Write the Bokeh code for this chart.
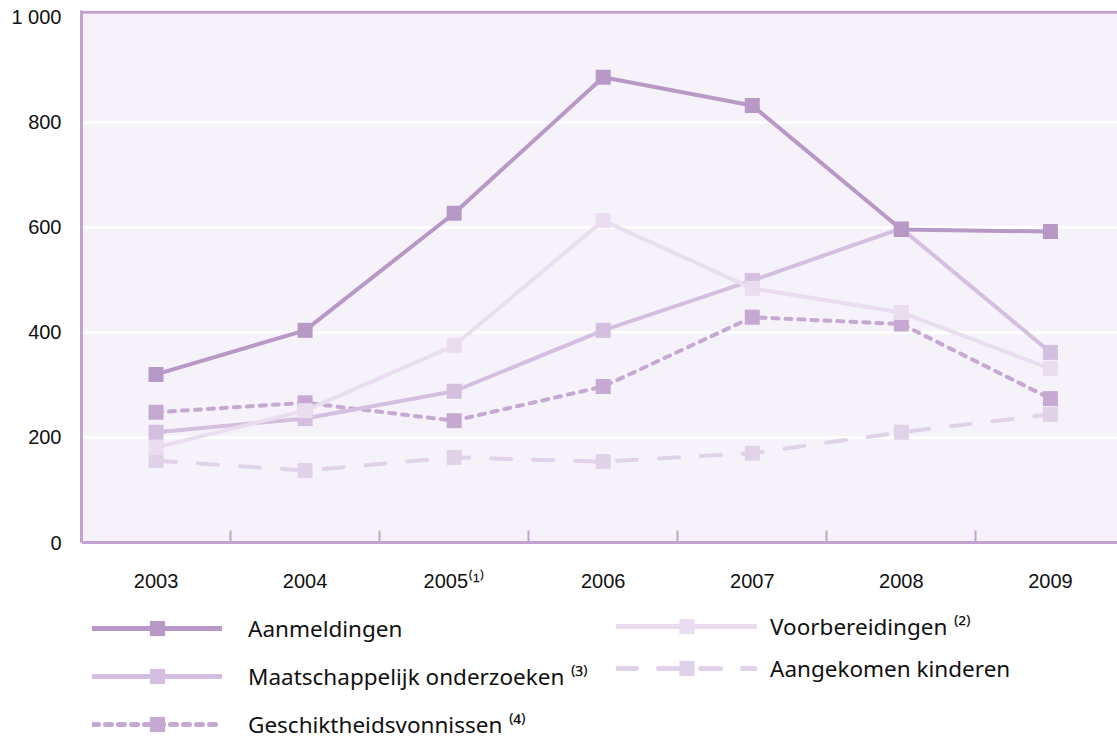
from bokeh.plotting import figure
from bokeh.layouts import column
from bokeh.models import Range1d, FixedTicker, Span, Legend, LegendItem
from bokeh.embed import file_html
from bokeh.resources import INLINE

# ---- data ----
years = ["2003", "2004", "2005⁽¹⁾", "2006", "2007", "2008", "2009"]
aanmeldingen = [320, 404, 627, 886, 832, 596, 592]
voorbereidingen = [181, 251, 375, 613, 484, 438, 331]
maatschappelijk = [210, 236, 288, 404, 499, 598, 362]
geschikt = [248, 266, 232, 297, 429, 416, 274]
aangekomen = [156, 137, 162, 154, 170, 210, 244]
y_ticks = [0, 200, 400, 600, 800, 1000]
y_labels = ["0", "200", "400", "600", "800", "1 000"]

labels = {
    "aanmeldingen": "Aanmeldingen",
    "maatschappelijk": "Maatschappelijk onderzoeken ⁽³⁾",
    "geschikt": "Geschiktheidsvonnissen ⁽⁴⁾",
    "voorbereidingen": "Voorbereidingen ⁽²⁾",
    "aangekomen": "Aangekomen kinderen",
}

# ---- styles ----
axis_col = "#c4a2d0"
bg_col = "#f5f2f9"
col_aan = "#b898c7"
col_maat = "#d4bfe0"
col_voor = "#e9ddef"
col_ges = "#c5a9d3"
col_ang = "#e0d2e9"
font_tick = "Liberation Sans"
font_leg = "Noto Sans"

xs = list(range(len(years)))

p = figure(
    x_range=Range1d(-0.5, 6.45), y_range=Range1d(0, 1013),
    width=1117, height=600,
    min_border_left=81, min_border_right=0, min_border_top=10, min_border_bottom=58,
    output_backend="svg", toolbar_location=None,
)
p.background_fill_color = bg_col
p.border_fill_color = "white"
p.outline_line_color = None

# axes
p.xaxis.ticker = FixedTicker(ticks=xs, minor_ticks=[i + 0.5 for i in xs[:-1]])
p.xaxis.major_label_overrides = {i: t for i, t in zip(xs, years)}
p.xaxis.axis_line_color = axis_col
p.xaxis.axis_line_width = 3
p.xaxis.major_tick_line_color = None
p.xaxis.minor_tick_in = 12
p.xaxis.minor_tick_out = 0
p.xaxis.minor_tick_line_color = axis_col
p.xaxis.minor_tick_line_width = 2
p.xaxis.major_label_standoff = 21
p.xaxis.major_label_text_font = font_tick
p.xaxis.major_label_text_font_size = "20px"
p.xaxis.major_label_text_color = "#111111"

p.yaxis.ticker = FixedTicker(ticks=y_ticks)
p.yaxis.major_label_overrides = {v: t for v, t in zip(y_ticks, y_labels)}
p.yaxis.axis_line_color = axis_col
p.yaxis.axis_line_width = 3
p.yaxis.major_tick_line_color = None
p.yaxis.minor_tick_line_color = None
p.yaxis.major_label_standoff = 14
p.yaxis.major_label_text_font = font_tick
p.yaxis.major_label_text_font_size = "20px"
p.yaxis.major_label_text_color = "#111111"

p.xgrid.visible = False
p.ygrid.ticker = FixedTicker(ticks=[200, 400, 600, 800])
p.ygrid.grid_line_color = "white"
p.ygrid.grid_line_width = 3

p.add_layout(Span(location=1009.5, dimension="width", line_color=axis_col, line_width=3))

# series styles
styles = [
    ("aangekomen", aangekomen, col_ang, "20 22"),
    ("geschikt", geschikt, col_ges, "6 7"),
    ("maatschappelijk", maatschappelijk, col_maat, "solid"),
    ("voorbereidingen", voorbereidingen, col_voor, "solid"),
    ("aanmeldingen", aanmeldingen, col_aan, "solid"),
]

def series(fig, vals, col, dash, lw=4):
    l = fig.line(xs, vals, line_color=col, line_width=lw, line_dash=dash, line_cap="round", line_join="round")
    s = fig.scatter(xs, vals, marker="square", size=15, fill_color=col, line_color=None)
    return [l, s]

for key, vals, col, dash in styles:
    series(p, vals, col, dash)

# legend figure (series renderers lie outside its visible y range; only the legend shows)
q = figure(
    x_range=Range1d(-0.5, 6.45), y_range=Range1d(-1, 0),
    width=1117, height=140,
    min_border_left=0, min_border_right=0, min_border_top=0, min_border_bottom=0,
    x_axis_location=None, y_axis_location=None,
    output_backend="svg", toolbar_location=None,
)
q.outline_line_color = None
q.grid.visible = False
q.background_fill_color = "white"
q.border_fill_color = "white"

rq = {}
for key, vals, col, dash in styles:
    rq[key] = series(q, vals, col, dash, lw=5)

def make_legend(keys, loc, gw, standoff, spacing):
    return Legend(
        items=[LegendItem(label=labels[k], renderers=rq[k]) for k in keys],
        location=loc, orientation="vertical",
        glyph_width=gw, glyph_height=38, label_height=20,
        label_standoff=standoff, spacing=spacing, padding=0, margin=0,
        background_fill_alpha=0, border_line_color=None,
        label_text_font=font_leg, label_text_font_size="22.5px",
        label_text_color="#111111",
    )

q.add_layout(make_legend(["aanmeldingen", "maatschappelijk", "geschikt"], (11, -3), 130, 26, 10))
q.add_layout(make_legend(["voorbereidingen", "aangekomen"], (535, 53), 141, 13, 4))

open("out.html", "w").write(file_html(column(p, q, spacing=0), INLINE))
